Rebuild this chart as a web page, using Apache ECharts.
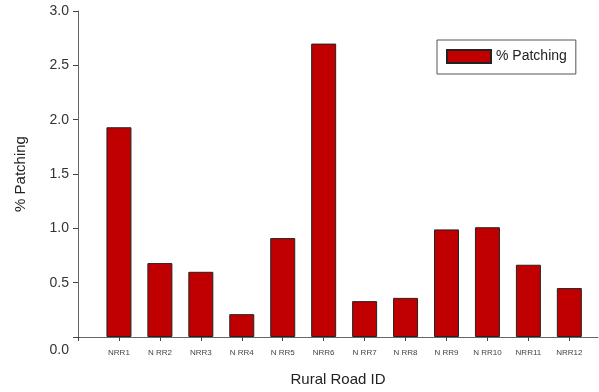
<!DOCTYPE html>
<html>
<head>
<meta charset="utf-8">
<script src="https://cdn.jsdelivr.net/npm/echarts@6/dist/echarts.min.js"></script>
<style>
  html, body { margin: 0; padding: 0; background: #fff; }
  #chart { width: 599px; height: 392px; }
</style>
</head>
<body>
<div id="chart"></div>
<script>
const roadIds = ['NRR1', 'N RR2', 'NRR3', 'N RR4', 'N RR5', 'NRR6', 'N RR7', 'N RR8', 'N RR9', 'N RR10', 'NRR11', 'NRR12']
const patching = [1.93, 0.68, 0.60, 0.21, 0.91, 2.70, 0.33, 0.36, 0.99, 1.01, 0.665, 0.45]
const yTicks = [0, 0.5, 1.0, 1.5, 2.0, 2.5, 3.0]

let myChart = echarts.init(document.getElementById('chart'))

// bars sit at positions 1..12 on a value axis, like the original plot
let barData = patching.map((v, i) => [i + 1, v])

let option = {
  animation: false,
  textStyle: { fontFamily: 'Liberation Sans' },
  grid: { left: 78, right: 1, top: 11, bottom: 53 },
  legend: {
    left: 437,
    top: 40,
    padding: [9, 9, 10, 9],
    borderColor: '#555',
    borderWidth: 1,
    icon: 'rect',
    itemWidth: 44,
    itemHeight: 13,
    itemGap: 4,
    textStyle: { color: '#222', fontSize: 14, fontFamily: 'Liberation Sans' },
    data: ['% Patching']
  },
  xAxis: {
    type: 'value',
    min: 0,
    max: 12.7,
    interval: 1,
    name: 'Rural Road ID',
    nameLocation: 'middle',
    nameGap: 35,
    nameTextStyle: { color: '#222', fontSize: 15 },
    splitLine: { show: false },
    axisLine: { lineStyle: { color: '#666', width: 1 } },
    axisTick: { show: true, length: 4, lineStyle: { color: '#444' } },
    axisLabel: {
      showMaxLabel: false,
      color: '#444',
      fontSize: 8,
      margin: 12,
      formatter: function (v) {
        return v >= 1 && v <= roadIds.length ? roadIds[v - 1] : ''
      }
    }
  },
  yAxis: {
    type: 'value',
    min: yTicks[0],
    max: yTicks[yTicks.length - 1],
    interval: 0.5,
    name: '% Patching',
    nameLocation: 'middle',
    nameGap: 50,
    nameTextStyle: { color: '#222', fontSize: 15 },
    splitLine: { show: false },
    axisLine: { show: true, lineStyle: { color: '#666', width: 1 } },
    axisTick: { show: true, length: 5, lineStyle: { color: '#444' } },
    axisLabel: {
      color: '#333',
      fontSize: 14,
      margin: 9,
      formatter: function (v) {
        return v === 0 ? '{z|0.0}' : v.toFixed(1)
      },
      rich: {
        z: { padding: [26, 0, 0, 0], fontSize: 14, color: '#333' }
      }
    }
  },
  series: [
    {
      name: '% Patching',
      type: 'bar',
      barWidth: 25,
      data: barData,
      itemStyle: {
        color: '#C00000',
        borderColor: '#222',
        borderWidth: 1
      }
    }
  ]
}

myChart.setOption(option, true)
</script>
</body>
</html>
